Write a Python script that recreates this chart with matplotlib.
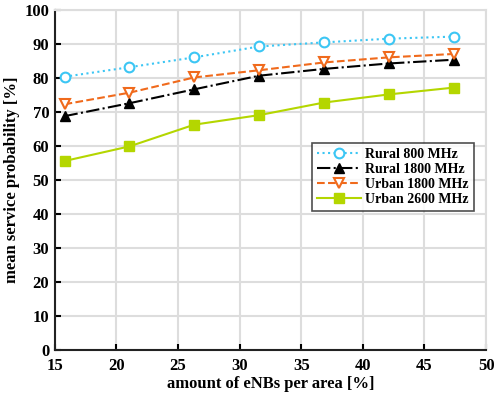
import matplotlib
matplotlib.use("Agg")
import matplotlib.pyplot as plt

eNBs = [15.79, 21.05, 26.32, 31.58, 36.84, 42.11, 47.37]
rural_800 = [80.4, 83.2, 86.1, 89.3, 90.5, 91.6, 92.2]
rural_1800 = [68.8, 72.6, 76.7, 80.7, 82.7, 84.3, 85.4]
urban_1800 = [72.3, 75.7, 80.2, 82.3, 84.6, 86.1, 87.1]
urban_2600 = [55.6, 59.9, 66.3, 69.1, 72.8, 75.2, 77.2]

plt.rcParams['font.family'] = ['Liberation Serif', 'DejaVu Serif']
plt.rcParams['font.weight'] = 'bold'

fig = plt.figure(figsize=(4.94, 3.98), dpi=100)
ax = fig.add_axes([0.111, 0.1206, 0.873, 0.854])

ax.plot(eNBs, rural_800, ':', color='#3cc6f4', lw=1.5, marker='o', ms=7,
        mfc='white', mec='#3cc6f4', mew=1.5, label='Rural 800 MHz')
ax.plot(eNBs, rural_1800, '-.', color='black', lw=1.5, marker='^', ms=7.5,
        mfc='black', mec='black', label='Rural 1800 MHz')
ax.plot(eNBs, urban_1800, '--', color='#f06a1c', lw=1.5, marker='v', ms=7.5,
        mfc='white', mec='#f06a1c', mew=1.5, label='Urban 1800 MHz')
ax.plot(eNBs, urban_2600, '-', color='#b4d600', lw=1.5, marker='s', ms=6.5,
        mfc='#b4d600', mec='#b4d600', label='Urban 2600 MHz')

ax.set_xlim(15, 50)
ax.set_ylim(0, 100)
ax.set_xticks(range(15, 51, 5))
ax.set_yticks(range(0, 101, 10))
ax.grid(True, color='#dddddd', lw=1.5)
ax.set_axisbelow(True)
for s in ['top', 'right']:
    ax.spines[s].set_color('#dddddd')
    ax.spines[s].set_linewidth(1.5)
for s in ['left', 'bottom']:
    ax.spines[s].set_color('#222222')
    ax.spines[s].set_linewidth(1.5)
ax.tick_params(direction='in', length=4, width=1.5, labelsize=12)
ax.tick_params(axis='x', pad=6)
ax.tick_params(axis='y', pad=4)

ax.set_xlabel('amount of eNBs per area [%]', fontsize=12, fontweight='bold', labelpad=1)
ax.set_ylabel('mean service probability [%]', fontsize=12, fontweight='bold', labelpad=3)

leg = ax.legend(loc='upper left', bbox_to_anchor=(0.596, 0.61), fontsize=10,
                frameon=True, fancybox=False, edgecolor='#222222',
                handlelength=3.2, borderpad=0.35, labelspacing=0.15,
                handletextpad=0.3, borderaxespad=0)
leg.get_frame().set_linewidth(1.2)

fig.savefig('out.png', dpi=100)
